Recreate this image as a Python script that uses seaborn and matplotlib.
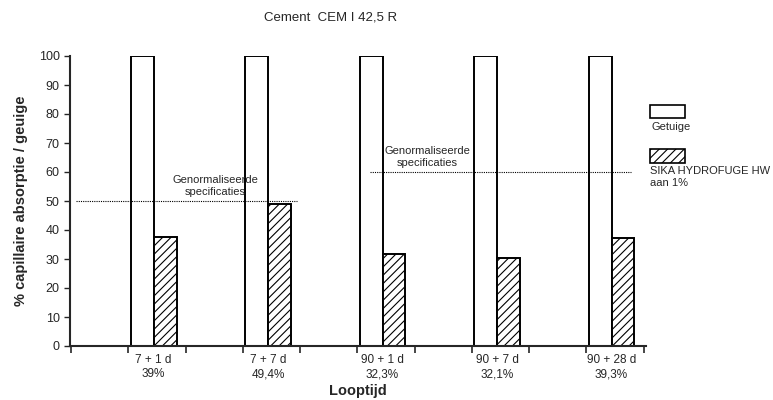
import pandas as pd
import matplotlib.pyplot as plt
import seaborn as sns
from matplotlib.patches import Rectangle

categories = ['7 + 1 d\n39%', '7 + 7 d\n49,4%', '90 + 1 d\n32,3%', '90 + 7 d\n32,1%', '90 + 28 d\n39,3%']
getuige = [100, 100, 100, 100, 100]
sika = [37.6, 49, 31.7, 30.3, 37.2]
series = ['Getuige', 'SIKA HYDROFUGE HW\naan 1%']

df = pd.DataFrame({
    'Looptijd': categories * 2,
    'waarde': getuige + sika,
    'reeks': [series[0]] * 5 + [series[1]] * 5,
})

sns.set_style('ticks')
plt.rcParams['font.family'] = ['Liberation Sans', 'DejaVu Sans']
plt.rcParams['hatch.linewidth'] = 0.8

fig = plt.figure(figsize=(7.73, 4), dpi=100)
ax = fig.add_axes([0.0906, 0.135, 0.745, 0.725])

sns.barplot(data=df, x='Looptijd', y='waarde', hue='reeks', palette=['white', 'white'],
            width=0.4, edgecolor='black', linewidth=1.4, ax=ax, legend=False)
n = len(categories)
for i, p in enumerate(ax.patches[:2 * n]):
    if i >= n:
        p.set_hatch('////')

# genormaliseerde specificaties
ax.plot([-0.68, 1.25], [50, 50], color='black', lw=0.8, ls=(0, (1, 1)))
ax.plot([1.89, 4.17], [60, 60], color='black', lw=0.8, ls=(0, (1, 1)))
ax.text(0.54, 51.5, 'Genormaliseerde\nspecificaties', ha='center', va='bottom', fontsize=8)
ax.text(2.39, 61.5, 'Genormaliseerde\nspecificaties', ha='center', va='bottom', fontsize=8)

ax.set_xlim(-0.73, 4.3)
ax.set_ylim(0, 100)
ax.set_yticks(range(0, 101, 10))
ax.tick_params(axis='y', labelsize=9, length=4, width=1)
ax.tick_params(axis='x', which='major', length=0, labelsize=8.5, pad=6)
ax.set_xticks([-0.72 + 0.5 * k for k in range(11)], minor=True)
ax.tick_params(axis='x', which='minor', length=5, width=1.2)
for s in ['top', 'right']:
    ax.spines[s].set_visible(False)
for s in ['left', 'bottom']:
    ax.spines[s].set_linewidth(1.5)

ax.set_xlabel('Looptijd', fontsize=10.5, fontweight='bold', labelpad=3)
ax.set_ylabel('% capillaire absorptie / geuige', fontsize=10.5, fontweight='bold', labelpad=8)
fig.text(0.427, 0.955, 'Cement  CEM I 42,5 R', ha='center', va='center', fontsize=9.5)

# legende
fig.add_artist(Rectangle((650 / 773, 1 - 118 / 400), 35 / 773, 13 / 400, facecolor='white',
                         edgecolor='black', lw=1.2, transform=fig.transFigure))
fig.text(652 / 773, 1 - 127 / 400, 'Getuige', fontsize=8, va='center')
fig.add_artist(Rectangle((650 / 773, 1 - 163 / 400), 35 / 773, 14 / 400, facecolor='white',
                         edgecolor='black', lw=1.2, hatch='////', transform=fig.transFigure))
fig.text(650 / 773, 1 - 177 / 400, 'SIKA HYDROFUGE HW\naan 1%', fontsize=8, va='center',
         linespacing=1.15)

plt.savefig('out.png', dpi=100)
plt.close()
